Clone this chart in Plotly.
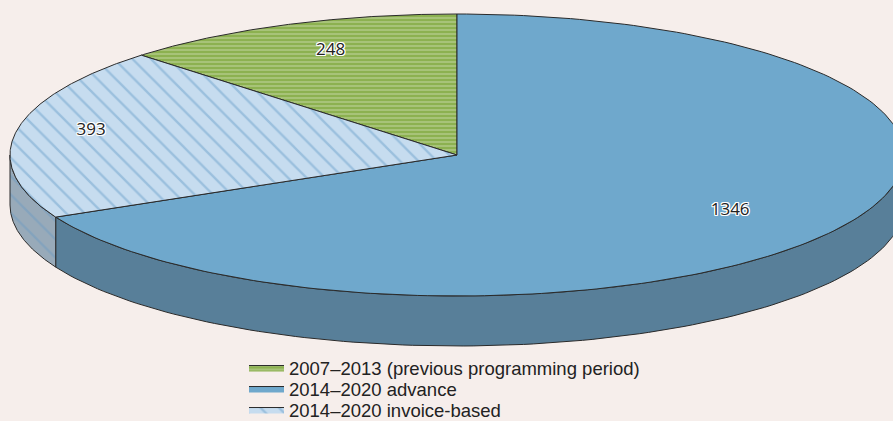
import numpy as np
import plotly.graph_objects as go

# ---- data ----
categories = ["2014–2020 advance", "2014–2020 invoice-based", "2007–2013 (previous programming period)"]
values = [1346, 393, 248]
labels = ["1346", "393", "248"]
legend_order = ["2007–2013 (previous programming period)", "2014–2020 advance", "2014–2020 invoice-based"]

# ---- style ----
BG = "#f6eeeb"
top_colors = {"2014–2020 advance": "#6fa8cc",
              "2014–2020 invoice-based": "#c6dcef",
              "2007–2013 (previous programming period)": "#8cb150"}
side_colors = {"2014–2020 advance": "#587f99",
               "2014–2020 invoice-based": "#98aab9",
               "2007–2013 (previous programming period)": "#6a8a3c"}
patterns = {"2014–2020 advance": None,
            "2014–2020 invoice-based": dict(shape="\\", fgcolor="#6fa3cc", size=13, solidity=0.18),
            "2007–2013 (previous programming period)": dict(shape="-", fgcolor="#c9daa8", size=4, solidity=0.45)}
side_patterns = {"2014–2020 invoice-based": dict(shape="\\", fgcolor="#6f9cc2", size=13, solidity=0.18)}
# label placement as fraction of the radii (x, y)
label_r = {"2014–2020 advance": (0.72, 0.75),
           "2014–2020 invoice-based": (0.83, 1.05),
           "2007–2013 (previous programming period)": (0.74, 0.80)}
legend_rows_px = [368, 389, 410]

W, H = 893, 421
cx, cy, rx, ry, depth = 457, 155, 447, 141, 50


def pt(theta_deg, fx=1.0, fy=1.0, dy=0.0):
    t = np.radians(theta_deg)
    return cx + fx * rx * np.sin(t), cy - fy * ry * np.cos(t) + dy


total = float(sum(values))
angles = []
a = 0.0
for v in values:
    b = a + 360.0 * v / total
    angles.append((a, b))
    a = b

fig = go.Figure()

# sides (front half only: 90..270 deg)
for cat, (a, b) in zip(categories, angles):
    lo, hi = max(a, 90.0), min(b, 270.0)
    if hi <= lo:
        continue
    th = np.linspace(lo, hi, 120)
    xt, yt = pt(th)
    xb, yb = pt(th[::-1], dy=depth)
    xs = np.concatenate([xt, xb, xt[:1]])
    ys = np.concatenate([yt, yb, yt[:1]])
    kw = {}
    if cat in side_patterns:
        kw["fillpattern"] = dict(bgcolor=side_colors[cat], **side_patterns[cat])
    fig.add_trace(go.Scatter(x=xs, y=ys, mode="lines", fill="toself",
                             fillcolor=side_colors[cat],
                             line=dict(color="#2a2a2a", width=1),
                             showlegend=False, hoverinfo="skip", **kw))

# top faces
legend_ids = ["legend", "legend2", "legend3"]
top_traces = {}
for cat, (a, b) in zip(categories, angles):
    th = np.linspace(a, b, 200)
    xa, ya = pt(th)
    xs = np.concatenate([[cx], xa, [cx]])
    ys = np.concatenate([[cy], ya, [cy]])
    kw = {}
    if patterns[cat] is not None:
        kw["fillpattern"] = dict(bgcolor=top_colors[cat], **patterns[cat])
    top_traces[cat] = dict(x=xs, y=ys, mode="lines", fill="toself",
                           fillcolor=top_colors[cat],
                           line=dict(color="#2a2a2a", width=1),
                           name=cat, showlegend=True, hoverinfo="skip", **kw)
for lid, cat in zip(legend_ids, legend_order):
    fig.add_trace(go.Scatter(legend=lid, **top_traces[cat]))

# data labels
lx, ly = [], []
for cat, (a, b) in zip(categories, angles):
    fx, fy = label_r[cat]
    x, y = pt((a + b) / 2.0, fx=fx, fy=fy)
    lx.append(x)
    ly.append(y)
halo = ("-1px -1px 0 #fff, 1px -1px 0 #fff, -1px 1px 0 #fff, 1px 1px 0 #fff, "
        "0 -1px 0 #fff, 0 1px 0 #fff, -1px 0 0 #fff, 1px 0 0 #fff")
fig.add_trace(go.Scatter(x=lx, y=ly, mode="text", text=labels,
                         textfont=dict(family="Open Sans", size=17, color="#222222", shadow=halo),
                         showlegend=False, hoverinfo="skip"))

leg_common = dict(x=244 / W, xanchor="left", yanchor="middle",
                  bgcolor="rgba(0,0,0,0)",
                  font=dict(family="Liberation Sans", size=18.5, color="#222222"),
                  itemwidth=35)
layout_legends = {}
for lid, ypx in zip(legend_ids, legend_rows_px):
    layout_legends[lid] = dict(y=1 - ypx / H, **leg_common)

fig.update_layout(
    width=W, height=H,
    margin=dict(l=0, r=0, t=0, b=0, autoexpand=False),
    paper_bgcolor=BG, plot_bgcolor=BG,
    xaxis=dict(range=[0, W], visible=False, fixedrange=True),
    yaxis=dict(range=[H, 0], visible=False, fixedrange=True),
    showlegend=True,
    **layout_legends,
)

fig.write_html("out.html", config={"displayModeBar": False},
               post_script="document.body.style.margin='0';document.body.style.overflow='hidden';")
